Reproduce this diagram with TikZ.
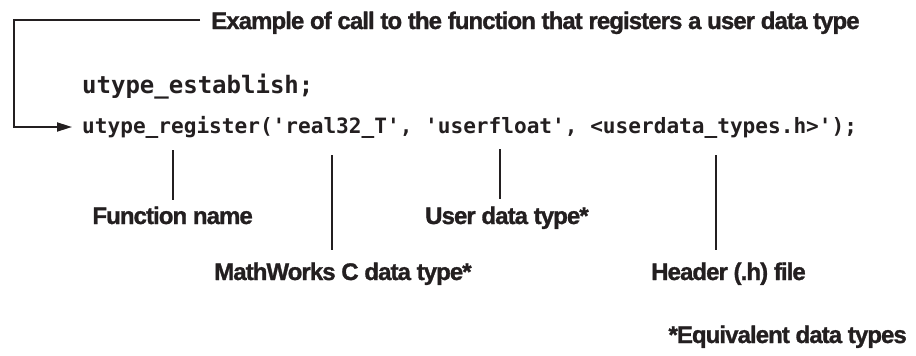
\documentclass[tikz,border=0pt]{standalone}
\usepackage{fontspec}
\usetikzlibrary{arrows.meta}
\setmainfont{Liberation Sans}
\newfontfamily\labfont{Liberation Sans Bold}[LetterSpace=-3.9,FakeBold=1.2]
\newfontfamily\codefont{DejaVu Sans Mono Bold}
\definecolor{ink}{HTML}{231F20}
\begin{document}
\begin{tikzpicture}[x=1pt,y=-1pt,
  lab/.style={inner sep=0pt, font=\labfont\fontsize{24}{28}\selectfont, text=ink},
  code/.style={inner sep=0pt, text=ink},
  conn/.style={draw=ink, line width=1.8pt},
  arr/.style={conn, -{Triangle[length=15pt,width=9pt]}}]
\path[use as bounding box] (0,0) rectangle (916,356);

\node[lab, anchor=base west] (title) at (211,29) {Example of call to the function that registers a user data type};
\node[code, font=\codefont\fontsize{24}{28}\selectfont, anchor=base west] (est) at (82,93) {utype\_establish;};
\node[code, font=\codefont\fontsize{21.1}{25}\selectfont, anchor=base west] (reg) at (82,133) {utype\_register(\textquotesingle real32\_T\textquotesingle, \textquotesingle userfloat\textquotesingle, <userdata\_types.h>\textquotesingle);};

\coordinate (c1) at (14,20);
\coordinate (c2) at (14,127);
\draw[arr] ([xshift=-11pt,yshift=9pt]title.base west) -- (c1) -- (c2) -- ([xshift=-10pt,yshift=6pt]reg.base west);

\node[lab, anchor=base east] (fn) at (253,224) {Function name};
\node[lab, anchor=base west] (ud) at (425,224) {User data type*};
\node[lab, anchor=base west] (mw) at (214,280) {MathWorks C data type*};
\node[lab, anchor=base west] (hd) at (651,280) {Header (.h) file};
\node[lab, anchor=base east] (eq) at (907,343) {*Equivalent data types};

\coordinate (p1) at (173,150);
\coordinate (p2) at (332,155);
\coordinate (p3) at (500,149);
\coordinate (p4) at (716,155);
\draw[conn, shorten >=6pt] (p1) -- (p1 |- fn.north);
\draw[conn, shorten >=12pt] (p2) -- (p2 |- mw.north);
\draw[conn, shorten >=7pt] (p3) -- (p3 |- ud.north);
\draw[conn, shorten >=12pt] (p4) -- (p4 |- hd.north);
\end{tikzpicture}
\end{document}
